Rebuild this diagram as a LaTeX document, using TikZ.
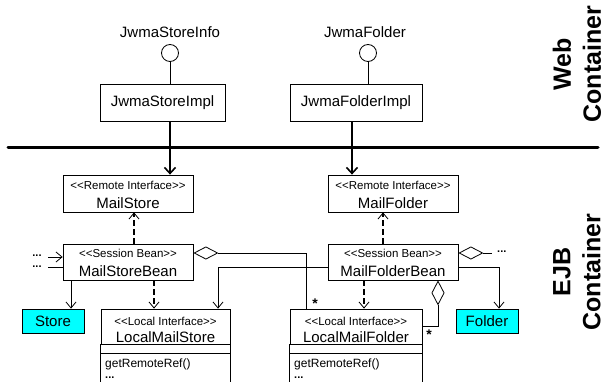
\documentclass[tikz,border=0pt]{standalone}
\usepackage{fontspec}
\setmainfont{Liberation Sans}
\usetikzlibrary{arrows.meta}
\definecolor{boxcyan}{RGB}{0,255,255}
\newcommand{\stL}{<\kern0pt<}
\newcommand{\stR}{>\kern0pt>}
\begin{document}
\begin{tikzpicture}[x=1pt,y=-1pt,
  box/.style={draw, line width=0.8pt, inner sep=0pt},
  bigtxt/.style={font=\fontsize{15}{17}\selectfont, inner sep=0pt},
  stereo/.style={font=\fontsize{11.5}{13}\selectfont, inner sep=0pt},
  optxt/.style={font=\fontsize{12}{14}\selectfont, inner sep=0pt, anchor=west},
  dotstxt/.style={font=\bfseries\fontsize{11}{12}\selectfont, inner sep=0pt},
  startxt/.style={font=\bfseries\fontsize{14}{15}\selectfont, inner sep=0pt},
  contxt/.style={font=\bfseries\fontsize{25}{30}\selectfont, rotate=90, align=center, inner sep=0pt},
  conn/.style={line width=0.8pt},
  openarrow/.style={conn, -{Straight Barb[length=6pt,width=10pt]}},
  dasharrow/.style={line width=1.6pt, dash pattern=on 6pt off 3pt, -{Straight Barb[length=6pt,width=10pt,line width=0.8pt]}},
  agg/.style={conn, {Diamond[open,length=25pt,width=13pt]}-},
  cyanbox/.style={box, fill=boxcyan, minimum width=62pt, minimum height=24pt, font=\fontsize{15}{17}\selectfont}
]
\useasboundingbox (0,0) rectangle (605,382);
\clip (0,0) rectangle (605,382);

% ---------- Web container ----------
\node[bigtxt] (infoS) at (170,32) {JwmaStoreInfo};
\node[circle, draw, line width=0.8pt, minimum size=17pt, inner sep=0pt] (cS) at (170,53) {};
\node[box, minimum width=125pt, minimum height=37pt, bigtxt] (jsi) at (162.5,102.5) {JwmaStoreImpl};

\node[bigtxt] (infoF) at (365,32) {JwmaFolder};
\node[circle, draw, line width=0.8pt, minimum size=17pt, inner sep=0pt] (cF) at (368,53) {};
\node[box, minimum width=132pt, minimum height=37pt, bigtxt] (jfi) at (356,102.5) {JwmaFolderImpl};

\node[contxt] (web) at (577,64) {Web\\Container};
\node[contxt] (ejb) at (577,272) {EJB\\Container};

\coordinate (busL) at (8,148);
\coordinate (busR) at (598,148);
\draw[line width=3pt, line cap=round] (busL) -- (busR);

% ---------- EJB boxes ----------
\node[box, minimum width=130pt, minimum height=37pt] (ms) at (128,193.5) {};
\node[stereo] (msS) at (128,185) {\stL Remote Interface\stR};
\node[bigtxt] (msN) at (128,203) {MailStore};

\node[box, minimum width=130pt, minimum height=36pt] (msb) at (128,262) {};
\node[stereo] (msbS) at (128,253) {\stL Session Bean\stR};
\node[bigtxt] (msbN) at (128,271) {MailStoreBean};

\node[box, minimum width=130pt, minimum height=37pt] (mf) at (393,193.5) {};
\node[stereo] (mfS) at (393,185) {\stL Remote Interface\stR};
\node[bigtxt] (mfN) at (393,203) {MailFolder};

\node[box, minimum width=130pt, minimum height=36pt] (mfb) at (393,262) {};
\node[stereo] (mfbS) at (393,253) {\stL Session Bean\stR};
\node[bigtxt] (mfbN) at (393,271) {MailFolderBean};

\node[cyanbox] (store) at (53,321) {Store};
\node[cyanbox] (folder) at (487,321) {Folder};

\node[box, minimum width=129pt, minimum height=35pt] (lms) at (165.5,326.5) {};
\node[stereo] (lmsS) at (165.5,321) {\stL Local Interface\stR};
\node[bigtxt] (lmsN) at (165.5,337) {LocalMailStore};
\draw[line width=0.8pt] (lms.south west) -- (lms.south west |- 0,395);
\draw[line width=0.8pt] (lms.south east) -- (lms.south east |- 0,395);
\draw[line width=0.8pt] (lms.south west |- 0,353) -- (lms.south east |- 0,353);
\node[optxt] (lmsOp) at (105,364) {getRemoteRef()};
\node[dotstxt, anchor=west] (lmsDots) at (105,378) {...};

\node[box, minimum width=132pt, minimum height=35pt] (lmf) at (356,326.5) {};
\node[stereo] (lmfS) at (356,321) {\stL Local Interface\stR};
\node[bigtxt] (lmfN) at (356,337) {LocalMailFolder};
\draw[line width=0.8pt] (lmf.south west) -- (lmf.south west |- 0,395);
\draw[line width=0.8pt] (lmf.south east) -- (lmf.south east |- 0,395);
\draw[line width=0.8pt] (lmf.south west |- 0,353) -- (lmf.south east |- 0,353);
\node[optxt] (lmfOp) at (294,364) {getRemoteRef()};
\node[dotstxt, anchor=west] (lmfDots) at (294,378) {...};

% ---------- connectors: web ----------
\draw[conn] (cS.south) -- (cS.south |- jsi.north);
\draw[conn] (cF.south) -- (cF.south |- jfi.north);
\draw[line width=1.6pt, -{Straight Barb[length=6pt,width=11pt]}] (jsi.south -| cS) -- (ms.north -| cS);
\draw[line width=1.6pt, -{Straight Barb[length=6pt,width=11pt]}] (jfi.south -| 352,0) -- (mf.north -| 352,0);

% ---------- connectors: EJB ----------
\draw[dasharrow] (msb.north -| 134,0) -- (ms.south -| 134,0);
\draw[dasharrow] (mfb.north -| 383,0) -- (mf.south -| 383,0);
\draw[dasharrow] (msb.south -| 154,0) -- (lms.north -| 154,0);
\draw[dasharrow] (mfb.south -| 364,0) -- (lmf.north -| 364,0);

\draw[openarrow] (msb.south -| 71,0) -- (store.north -| 71,0);
\draw[openarrow] (mfb.east |- 0,267) -| (folder.north -| 499,0);

\draw[agg] (msb.east |- 0,253) -| (lmf.north -| 306,0);
\node[startxt] (starA) at (315,304) {*};
\draw[openarrow] (mfb.west |- 0,267) -| (lms.north -| 218,0);

\coordinate (mfbR) at (492,253);
\draw[agg] (mfb.east |- 0,253) -- (mfbR);
\node[dotstxt, anchor=west] (dotsR) at (497,252) {...};

\draw[agg] (mfb.south -| 438,0) |- (lmf.east |- 0,326);
\node[startxt] (starB) at (429,335) {*};

\node[dotstxt] (dotsL1) at (37,256) {...};
\node[dotstxt] (dotsL2) at (37,267) {...};
\draw[openarrow] (48,257) -- (msb.west |- 0,257);
\draw[conn] (48,267) -- (msb.west |- 0,267);
\end{tikzpicture}
\end{document}
